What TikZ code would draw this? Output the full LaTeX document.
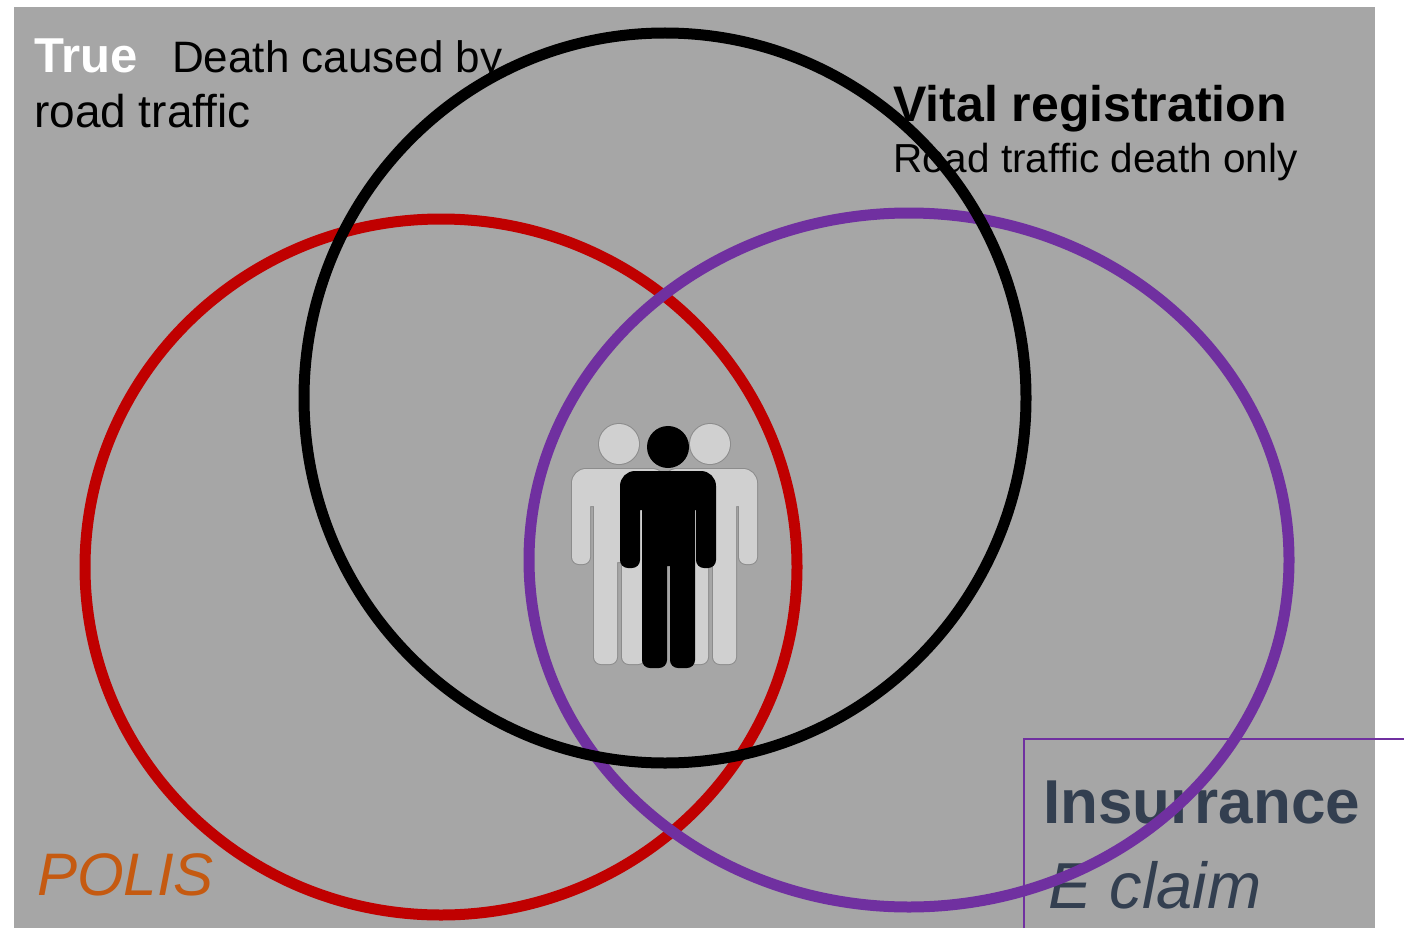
\documentclass[tikz,border=0pt]{standalone}
\usepackage{fontspec}
\setmainfont{Liberation Sans}
\usepackage{tikz}
\usetikzlibrary{arrows,positioning,shapes,fit,calc}
\definecolor{bggray}{HTML}{A6A6A6}
\definecolor{polisred}{HTML}{C00000}
\definecolor{insurpurple}{HTML}{7030A0}
\definecolor{polisorange}{HTML}{C55A11}
\definecolor{insurslate}{HTML}{333F50}
\definecolor{figgray}{HTML}{D0D0D0}
\definecolor{figedge}{HTML}{8C8C8C}
\newcommand{\personfig}[4]{%
\begin{scope}[shift={(#1,#2)}]
\draw[#4, line width=2] (0,0) circle (20) [rounded corners=14] (-47,25) rectangle (47,62) [rounded corners=7] (-47,40) rectangle (-29,120) (29,40) rectangle (47,120) (-25,40) rectangle (26,118) (-25,100) rectangle (-2,220) (3,100) rectangle (26,220);
\fill[#3] (0,0) circle (20) [rounded corners=14] (-47,25) rectangle (47,62) [rounded corners=7] (-47,40) rectangle (-29,120) (29,40) rectangle (47,120) (-25,40) rectangle (26,118) (-25,100) rectangle (-2,220) (3,100) rectangle (26,220);
\end{scope}}

\begin{document}
\begin{tikzpicture}[x=1pt, y=-1pt, ring/.style={ellipse,line width=11,inner sep=0pt}, label text/.style={anchor=base west,inner sep=0pt}]
\useasboundingbox (0,0) rectangle (1404,928);
\fill[bggray] (14,7) rectangle (1375,928);
\draw[insurpurple, line width=2] (1024,928) |- (1404,739);
\begin{scope}[every node/.style={label text}]
\node[white, font=\fontsize{49}{58}\selectfont\bfseries] (tTrue) at (34,73) {True};
\node[font=\fontsize{44}{53}\selectfont] (tDeath) at (172,73) {Death caused by};
\node[font=\fontsize{46}{55}\selectfont] (tRoad) at (34,128) {road traffic};
\node[font=\fontsize{50}{60}\selectfont\bfseries] (tVital) at (893,122) {Vital registration};
\node[font=\fontsize{40.5}{48}\selectfont] (tOnly) at (893,172) {Road traffic death only};
\node[polisorange, font=\fontsize{60}{70}\selectfont\itshape] (tPolis) at (37,895) {POLIS};
\node[insurslate, font=\fontsize{62}{74}\selectfont\bfseries] (tInsur) at (1043,823) {Insurrance};
\node[insurslate, font=\fontsize{65}{76}\selectfont\itshape] (tClaim) at (1048,908) {E claim};
\end{scope}
\begin{scope}[every node/.style={ring}]
\node[draw=polisred, minimum width=712, minimum height=696] (polis) at (441,567) {};
\node[draw=insurpurple, minimum width=760, minimum height=694] (insur) at (909,560) {};
\node[draw=black, minimum width=722, minimum height=730] (vital) at (665,398) {};
\end{scope}
%people in the middle
\personfig{619}{444}{figgray}{figedge}
\personfig{710}{444}{figgray}{figedge}
\personfig{668}{447}{black}{black}
\end{tikzpicture}
\end{document}
